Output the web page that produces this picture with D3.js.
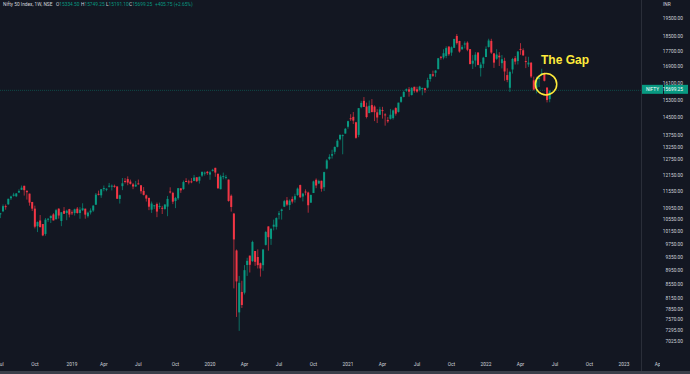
<!DOCTYPE html>
<html lang="en">
<head>
<meta charset="UTF-8">
<title>Nifty 50 Index, 1W</title>
<script src="https://d3js.org/d3.v7.min.js"></script>
<style>
  html, body { margin: 0; padding: 0; background: #131722; }
  svg { display: block; }
  text { font-family: Roboto, "Liberation Sans", sans-serif; }
  .axis-label { fill: #d1d4dc; font-size: 4.8px; }
  .legend { font-size: 4.8px; }
</style>
</head>
<body>
<svg id="chart" width="690" height="374"></svg>
<script>
// weekly candles, first bar = week of 25 Jun 2018, last = week of 20 Jun 2022
const firstWeek = new Date(2018, 5, 25);

const opens = [
  10742, 10733, 10838, 11018, 11081, 11297, 11387, 11369, 11502, 11605,
  11751, 11570, 11464, 11164, 10931, 10331, 10525, 10405, 10078, 10558,
  10607, 10731, 10568, 10930, 10508, 10854, 10780, 10913,
  10804, 10777, 10931, 10780, 10876, 10930, 10670, 10799, 10865, 11068,
  11457, 11403, 11665, 11604, 11736, 11727, 11748, 11726, 11274, 11737,
  11929, 12000, 11907, 11803, 11725, 11839, 11770, 11563, 11403, 11311,
  10895, 11025, 11095, 11000, 10960, 10921, 11000, 11542, 11491, 11198,
  11296, 11657, 11628, 11928, 11912, 11915, 11931, 12068, 11940, 12131,
  12236, 12276,
  12171, 12329, 12430, 12197, 11627, 12102, 12078, 11980, 11387, 10760,
  9550, 7760, 8320, 8300, 9104, 9390, 9220, 9533, 9348, 9158,
  9099, 9726, 10326, 9919, 10318, 10312, 10723, 10851, 10999, 11225,
  11057, 11270, 11248, 11412, 11777, 11359, 11540, 11504, 11141, 11487,
  11973, 11835, 11937, 11698, 12399, 12780, 12906, 13062, 13264, 13572,
  13741, 13815,
  14104, 14474, 14536, 14298, 13758, 14973, 15257, 14999, 14702, 15064,
  14996, 14737, 14628, 14837, 14644, 14400, 14449, 14481, 14928, 14756,
  15211, 15437, 15725, 15791, 15525, 15915, 15794, 15766, 15832, 15842,
  15874, 16288, 16518, 16592, 16775, 17400, 17363, 17443, 17932, 17615,
  17867, 18500, 18230, 17784, 18040, 18141, 17796, 17051, 17209, 17619,
  16825, 17046,
  17388, 17913, 18235, 17575, 17301, 17456, 17076, 17192, 16481, 15867,
  16757, 17329, 17181, 17809, 17740, 17183, 17010, 17096, 16227, 15846,
  16290, 16578, 16570, 15877, 15334.5
];
const highs = [
  10762, 10785, 11078, 11076, 11283, 11390, 11495, 11486, 11620, 11760,
  11751, 11570, 11464, 11171, 11035, 10492, 10710, 10408, 10606, 10600,
  10695, 10774, 10922, 10942, 10815, 10985, 10894, 10924,
  10870, 10930, 10987, 10983, 11119, 10930, 10827, 10941, 11058, 11487,
  11573, 11630, 11761, 11656, 11856, 11800, 11794, 11726, 11426, 12041,
  12039, 12103, 11982, 11856, 11931, 11982, 11771, 11703, 11429, 11314,
  11181, 11052, 11145, 11142, 11029, 11084, 11381, 11695, 11530, 11345,
  11670, 11660, 11945, 12034, 11973, 12038, 12158, 12069, 12098, 12293,
  12287, 12311,
  12311, 12390, 12430, 12216, 12161, 12246, 12159, 11986, 11433, 10780,
  9580, 8780, 8640, 9100, 9324, 9390, 9860, 9533, 9584, 9178,
  9598, 10178, 10328, 10272, 10554, 10632, 10848, 10933, 11239, 11341,
  11256, 11361, 11460, 11686, 11794, 11493, 11618, 11535, 11428, 11939,
  12025, 11975, 11942, 12280, 12770, 12963, 13145, 13280, 13579, 13773,
  13778, 14049,
  14368, 14653, 14753, 14318, 14925, 15257, 15432, 15176, 15273, 15336,
  15049, 14878, 14984, 14984, 14697, 14527, 14890, 14863, 14967, 15170,
  15469, 15733, 15835, 15901, 15903, 15915, 15915, 15962, 15882, 15863,
  16350, 16543, 16702, 16722, 17340, 17436, 17793, 17947, 17948, 17941,
  18351, 18604, 18242, 18012, 18210, 18210, 17807, 17490, 17639, 17639,
  17119, 17400,
  17944, 18351, 18350, 17599, 17794, 17640, 17490, 17352, 16815, 16694,
  17345, 17442, 17704, 18115, 17842, 17414, 17400, 17132, 16404, 16400,
  16415, 16794, 16610, 15886, 15749.25
];
const lows = [
  10558, 10605, 10810, 10894, 11066, 11234, 11359, 11340, 11499, 11595,
  11393, 11250, 11034, 10850, 10261, 10138, 10290, 10005, 10020, 10477,
  10440, 10526, 10557, 10588, 10334, 10750, 10535, 10629,
  10711, 10692, 10756, 10583, 10848, 10585, 10620, 10729, 10817, 11068,
  11400, 11311, 11549, 11550, 11686, 11579, 11681, 11283, 11108, 11591,
  11836, 11770, 11797, 11625, 11709, 11798, 11461, 11399, 11180, 10878,
  10782, 10919, 10637, 10920, 10746, 10894, 10670, 11469, 11090, 10948,
  11237, 11491, 11606, 11888, 11802, 11846, 11921, 11888, 11832, 12082,
  12131, 12161,
  11974, 12288, 12087, 11633, 11614, 11990, 11991, 11175, 10827, 8420,
  7640, 7280, 7880, 8250, 8780, 8880, 9200, 9080, 9000, 8760,
  8930, 9706, 9544, 9726, 10194, 10223, 10562, 10555, 10985, 11026,
  10882, 11111, 11144, 11383, 11303, 11185, 11402, 10790, 11134, 11487,
  11661, 11811, 11535, 11557, 12367, 12730, 12790, 12963, 13241, 13527,
  12962, 13811,
  14022, 14357, 14222, 13597, 13662, 14920, 14977, 14468, 14702, 14890,
  14350, 14265, 14617, 14459, 14151, 14273, 14417, 14417, 14591, 14725,
  15164, 15417, 15678, 15450, 15505, 15636, 15632, 15696, 15514, 15631,
  15834, 16162, 16395, 16395, 16764, 17254, 17270, 17327, 17452, 17452,
  17867, 18034, 17613, 17783, 17836, 17688, 17025, 16782, 16891, 16966,
  16410, 16833,
  17384, 17880, 17549, 16836, 17245, 16930, 16810, 16203, 16133, 15671,
  16555, 17006, 17006, 17505, 17442, 16824, 16888, 16341, 15736, 15601,
  15903, 16444, 16172, 15184, 15191.1
];
const closes = [
  10714, 10772, 11018, 11010, 11278, 11361, 11430, 11470, 11557, 11680,
  11589, 11515, 11143, 10930, 10316, 10472, 10303, 10030, 10553, 10585,
  10682, 10527, 10877, 10693, 10805, 10754, 10859, 10727,
  10795, 10907, 10780, 10894, 10944, 10724, 10792, 10864, 11035, 11427,
  11456, 11624, 11666, 11643, 11753, 11755, 11712, 11279, 11407, 11844,
  11923, 11870, 11823, 11724, 11789, 11811, 11552, 11419, 11285, 10998,
  11110, 11048, 10829, 11023, 10946, 11076, 11274, 11512, 11175, 11305,
  11662, 11584, 11890, 11908, 11895, 11914, 12056, 11921, 12086, 12271,
  12245, 12226,
  12257, 12352, 12248, 11662, 12098, 12113, 12081, 11202, 10989, 9900,
  8620, 8580, 7960, 8950, 9230, 9110, 9820, 9200, 9100, 9000,
  9580, 10142, 9972, 10244, 10383, 10607, 10768, 10902, 11194, 11073,
  11214, 11178, 11372, 11647, 11333, 11464, 11504, 11050, 11417, 11914,
  11762, 11930, 11642, 12264, 12720, 12859, 12969, 13258, 13514, 13761,
  13749, 14018,
  14347, 14434, 14372, 13635, 14924, 15163, 14982, 14529, 15031, 14744,
  14744, 14507, 14867, 14835, 14617, 14341, 14631, 14823, 14677, 15175,
  15436, 15670, 15799, 15683, 15860, 15722, 15690, 15923, 15856, 15763,
  16238, 16529, 16450, 16705, 17324, 17369, 17585, 17853, 17532, 17895,
  18339, 18114, 17672, 17916, 18102, 17765, 17026, 17197, 17511, 16985,
  17003, 17354,
  17812, 18256, 17617, 17102, 17516, 17374, 17276, 16658, 16245, 16630,
  17287, 17153, 17670, 17784, 17476, 17172, 17103, 16411, 15782, 16266,
  16352, 16584, 16202, 15294, 15699.25
];

// price axis labels as printed on the chart
const priceTicks = [19500, 18500, 17700, 16900, 16100, 15300, 14500, 13750, 13250,
  12750, 12150, 11550, 10950, 10550, 10150, 9750, 9350, 8950, 8550, 8150,
  7850, 7570, 7295, 7025];
const lastPrice = 15699.25;
const legendTitle = "Nifty 50 Index, 1W, NSE";
const legendItems = [["O", "15334.50"], ["H", "15749.25"], ["L", "15191.10"], ["C", "15699.25"]];
const legendChange = "+405.75 (+2.65%)";

const width = 690, height = 374;
const plotRight = 641;
const up = "#089981", down = "#f23645";

const weeks = d3.timeMonday.range(firstWeek, d3.timeDay.offset(firstWeek, 7 * opens.length));
const bars = weeks.map((d, i) => ({ date: d, o: opens[i], h: highs[i], l: lows[i], c: closes[i] }));

const svg = d3.select("#chart");

svg.append("rect").attr("width", width).attr("height", height).attr("fill", "#131722");

// time scale: year labels sit on the first weekly bar of each year
const x = d3.scaleTime()
  .domain([new Date(2019, 0, 7), new Date(2023, 0, 2)])
  .range([72, 624]);

// the price axis is compressed a bit like the screenshot; log of shifted price
const shift = 2600;
const yLog = d3.scaleLog().domain([19500 + shift, 7025 + shift]).range([18, 341]);
const y = v => yLog(v + shift);

svg.append("clipPath").attr("id", "plot")
  .append("rect").attr("x", 0).attr("y", 0).attr("width", plotRight).attr("height", 356);

const plot = svg.append("g").attr("clip-path", "url(#plot)");

// last price line
plot.append("line")
  .attr("x1", 0).attr("x2", plotRight)
  .attr("y1", y(lastPrice) - 1).attr("y2", y(lastPrice) - 1)
  .attr("stroke", up).attr("stroke-opacity", 0.4)
  .attr("stroke-dasharray", "1,1");

const candle = plot.append("g").selectAll("g")
  .data(bars)
  .join("g")
  .attr("fill", d => d.c >= d.o ? up : down)
  .attr("stroke", d => d.c >= d.o ? up : down);

candle.append("line")
  .attr("x1", d => x(d.date)).attr("x2", d => x(d.date))
  .attr("y1", d => y(d.h)).attr("y2", d => y(d.l))
  .attr("stroke-width", 0.9)
  .attr("stroke-opacity", 0.75);

candle.append("rect")
  .attr("stroke", "none")
  .attr("x", d => x(d.date) - 1)
  .attr("width", 2)
  .attr("y", d => Math.min(y(d.o), y(d.c)))
  .attr("height", d => Math.max(1, Math.abs(y(d.o) - y(d.c))));

// annotation
const gapBar = bars[bars.length - 2];
svg.append("circle")
  .attr("cx", x(gapBar.date) - 1).attr("cy", (y(opens[opens.length - 2]) + y(closes[closes.length - 3])) / 2)
  .attr("r", 10.7)
  .attr("fill", "none").attr("stroke", "#ffeb3b").attr("stroke-width", 1.5);

svg.append("text")
  .attr("x", 541).attr("y", 64)
  .attr("fill", "#ffeb3b")
  .attr("font-size", 12).attr("font-weight", "bold")
  .style("font-family", "'Liberation Sans', Arial, sans-serif")
  .text("The Gap");

// price axis
svg.append("line")
  .attr("x1", plotRight + 0.5).attr("x2", plotRight + 0.5)
  .attr("y1", 0).attr("y2", 371)
  .attr("stroke", "#2a2e39");

svg.append("g").selectAll("text")
  .data(priceTicks)
  .join("text")
  .attr("class", "axis-label")
  .attr("x", 683).attr("y", d => y(d) + 1.7)
  .attr("text-anchor", "end")
  .text(d => d.toFixed(2));

svg.append("text").attr("class", "axis-label")
  .attr("x", 663).attr("y", 5.5).text("INR");

// last price tag
const ly = y(lastPrice) - 2;
svg.append("rect").attr("x", 642).attr("y", ly - 4.5).attr("width", 21).attr("height", 9).attr("fill", up);
svg.append("rect").attr("x", 664).attr("y", ly - 4.5).attr("width", 24).attr("height", 9).attr("fill", up);
svg.append("text").attr("class", "axis-label").attr("fill", "#fff")
  .attr("x", 652.5).attr("y", ly + 1.7).attr("text-anchor", "middle").style("fill", "#fff").text("NIFTY");
svg.append("text").attr("class", "axis-label")
  .attr("x", 683).attr("y", ly + 1.7).attr("text-anchor", "end").style("fill", "#fff")
  .text(lastPrice.toFixed(2));

// time axis
const tickDates = d3.timeMonth.every(3).range(new Date(2018, 6, 1), new Date(2023, 4, 1))
  .map(m => d3.timeMonday.ceil(m));
const fmt = d => d.getMonth() === 0 ? d3.timeFormat("%Y")(d) : d3.timeFormat("%b")(d);

svg.append("clipPath").attr("id", "taxis")
  .append("rect").attr("x", 0).attr("y", 356).attr("width", 660).attr("height", 18);

svg.append("g").attr("clip-path", "url(#taxis)")
  .selectAll("text")
  .data(tickDates)
  .join("text")
  .attr("class", "axis-label")
  .attr("x", d => x(d)).attr("y", 366)
  .attr("text-anchor", "middle")
  .text(fmt);

svg.append("rect").attr("x", 0).attr("y", 371).attr("width", width).attr("height", 3).attr("fill", "#3b3f4a");

// legend
const legend = svg.append("g").attr("class", "legend");
legend.append("text").attr("x", 3).attr("y", 6).attr("fill", "#d1d4dc").text(legendTitle);
const legendX = [56, 81, 106, 129];
legendItems.forEach(([k, v], i) => {
  const t = legend.append("text").attr("x", legendX[i]).attr("y", 6);
  t.append("tspan").attr("fill", "#d1d4dc").text(k);
  t.append("tspan").attr("fill", up).text(v);
});
legend.append("text").attr("x", 155).attr("y", 6).attr("fill", up).text(legendChange);
</script>
</body>
</html>
